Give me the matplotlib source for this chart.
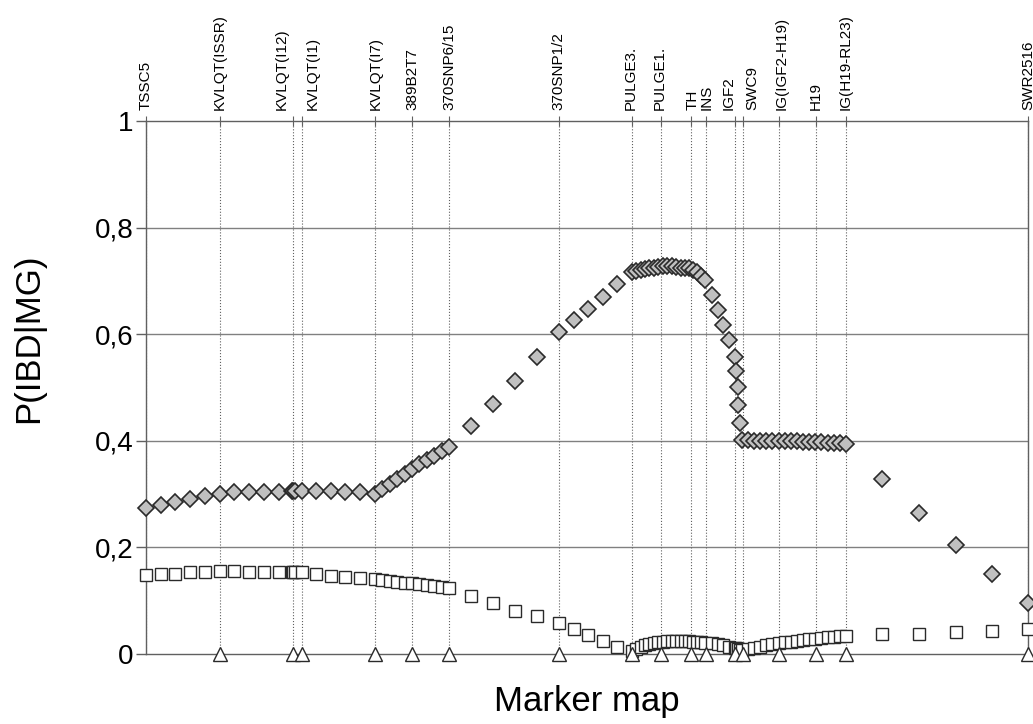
# -*- coding: utf-8 -*-
# P(IBD|MG) along the marker map

import matplotlib
matplotlib.use("Agg")
import matplotlib.pyplot as plt
import matplotlib.transforms as mtrans

plt.rcParams['font.family'] = ['Liberation Sans', 'DejaVu Sans']

# markers and their map positions
marker_names = ["TSSC5", "KVLQT(ISSR)", "KVLQT(I12)", "KVLQT(I1)", "KVLQT(I7)",
                "389B2T7", "370SNP6/15", "370SNP1/2", "PULGE3.", "PULGE1.",
                "TH", "INS", "IGF2", "SWC9", "IG(IGF2-H19)", "H19",
                "IG(H19-RL23)", "SWR2516"]
marker_pos = [0.0, 8.4, 16.7, 17.7, 26.0, 30.2, 34.4, 46.8, 55.1, 58.4,
              61.8, 63.5, 66.8, 67.7, 71.8, 76.0, 79.4, 100.0]
# where the names are written (spread apart where markers are close)
label_pos = [0.0, 8.4, 15.4, 18.9, 26.0, 30.2, 34.4, 46.8, 55.0, 58.3,
             62.0, 63.6, 66.0, 68.7, 72.1, 75.9, 79.3, 100.0]
# markers drawn as triangles on the axis (TSSC5 sits under the left axis)
typed_pos = marker_pos[1:]

# evaluation points along the map
pos = [0.0, 1.67, 3.34, 5.01, 6.68, 8.36, 10.02, 11.69, 13.36, 15.03, 16.55, 16.70, 16.85,
       17.65, 19.27, 20.94, 22.56, 24.26, 25.96,
       26.80, 27.64, 28.48, 29.32, 30.16, 31.00, 31.84, 32.68, 33.51, 34.35,
       36.85, 39.34, 41.84, 44.33, 46.83,
       48.48, 50.14, 51.79, 53.45,
       55.06, 55.56, 56.09, 56.58, 57.06, 57.60, 58.08, 58.58, 59.10, 59.60,
       60.09, 60.62, 61.11, 61.56, 62.05, 62.50, 62.93, 63.38,
       64.14, 64.85, 65.42, 66.13, 66.78, 66.86, 67.09, 67.16, 67.35,
       67.54, 68.23, 68.93, 69.63, 70.32, 71.02, 71.71, 72.40, 73.11, 73.80,
       74.49, 75.18, 75.88, 76.58, 77.27, 77.97, 78.66, 79.37,
       83.50, 87.64, 91.78, 95.92, 100.0]

# P(IBD|MG) - diamonds
p_mg = [0.274, 0.279, 0.285, 0.291, 0.297, 0.301, 0.303, 0.303, 0.303, 0.303, 0.305, 0.306, 0.306,
        0.306, 0.305, 0.305, 0.303, 0.303, 0.301,
        0.310, 0.319, 0.328, 0.337, 0.347, 0.356, 0.364, 0.371, 0.380, 0.389,
        0.428, 0.469, 0.512, 0.558, 0.605,
        0.626, 0.647, 0.669, 0.694,
        0.716, 0.719, 0.720, 0.722, 0.724, 0.725, 0.726, 0.727, 0.727, 0.727,
        0.726, 0.725, 0.725, 0.724, 0.720, 0.716, 0.710, 0.701,
        0.674, 0.646, 0.617, 0.590, 0.557, 0.530, 0.500, 0.467, 0.434,
        0.401, 0.401, 0.400, 0.400, 0.400, 0.400, 0.399, 0.399, 0.399, 0.399,
        0.398, 0.398, 0.397, 0.397, 0.396, 0.396, 0.395, 0.394,
        0.328, 0.264, 0.204, 0.150, 0.096]

# second series - squares
p_other = [0.148, 0.150, 0.150, 0.153, 0.154, 0.156, 0.156, 0.154, 0.154, 0.154, 0.153, 0.153, 0.153,
           0.153, 0.150, 0.146, 0.144, 0.142, 0.140,
           0.139, 0.137, 0.136, 0.134, 0.133, 0.131, 0.129, 0.128, 0.126, 0.123,
           0.109, 0.096, 0.081, 0.071, 0.058,
           0.047, 0.036, 0.025, 0.014,
           0.005, 0.010, 0.014, 0.017, 0.019, 0.021, 0.022, 0.023, 0.024, 0.024,
           0.024, 0.024, 0.024, 0.024, 0.023, 0.023, 0.022, 0.021,
           0.020, 0.018, 0.016, 0.014, 0.012, 0.011, 0.010, 0.009, 0.008,
           0.007, 0.009, 0.012, 0.014, 0.016, 0.018, 0.020, 0.022, 0.023, 0.025,
           0.026, 0.028, 0.029, 0.030, 0.031, 0.032, 0.033, 0.034,
           0.037, 0.037, 0.041, 0.044, 0.046]

yticks = [0, 0.2, 0.4, 0.6, 0.8, 1.0]
ytick_labels = ["0", "0,2", "0,4", "0,6", "0,8", "1"]

fig = plt.figure(figsize=(10.33, 7.24), dpi=100)
ax = fig.add_axes([0.1413, 0.0967, 0.8539, 0.7362])
ax.set_xlim(0, 100)
ax.set_ylim(0, 1)

# horizontal grid
for y in yticks[1:-1]:
    ax.axhline(y, color='#808080', lw=1.0, zorder=1)
# vertical dotted marker lines
for x in marker_pos:
    ax.axvline(x, color='#606060', lw=0.8, ls=':', zorder=1)

ax.plot(pos, p_mg, ls='none', marker='D', ms=8.5, mfc='#c0c0c0', mec='#2a2a2a',
        mew=1.2, clip_on=False, zorder=4)
ax.plot(pos, p_other, ls='none', marker='s', ms=8.5, mfc='white', mec='#2a2a2a',
        mew=1.0, clip_on=False, zorder=3)
ax.plot(typed_pos, [0] * len(typed_pos), ls='none', marker='^', ms=10, mfc='white',
        mec='#2a2a2a', mew=1.0, clip_on=False, zorder=5)

# marker names on top
trans = mtrans.blended_transform_factory(ax.transData, ax.transAxes)
for name, x in zip(marker_names, label_pos):
    ax.text(x, 1.02, name, transform=trans, rotation=90, ha='center', va='bottom',
            fontsize=11)

for s in ax.spines.values():
    s.set_color('#606060')
    s.set_linewidth(1.0)

ax.set_yticks(yticks)
ax.set_yticklabels(ytick_labels, fontsize=20)
ax.tick_params(axis='y', direction='out', length=7, width=1, color='#606060', pad=2)
ax.set_xticks(marker_pos)
ax.tick_params(axis='x', bottom=False, labelbottom=False, top=True, direction='inout',
               length=7, width=0.8, color='#606060')

ax.set_ylabel("P(IBD|MG)", fontsize=25)
ax.yaxis.set_label_coords(-0.114, 0.593)
ax.set_xlabel("Marker map", fontsize=25, labelpad=22)

fig.savefig("out.png", dpi=100)
